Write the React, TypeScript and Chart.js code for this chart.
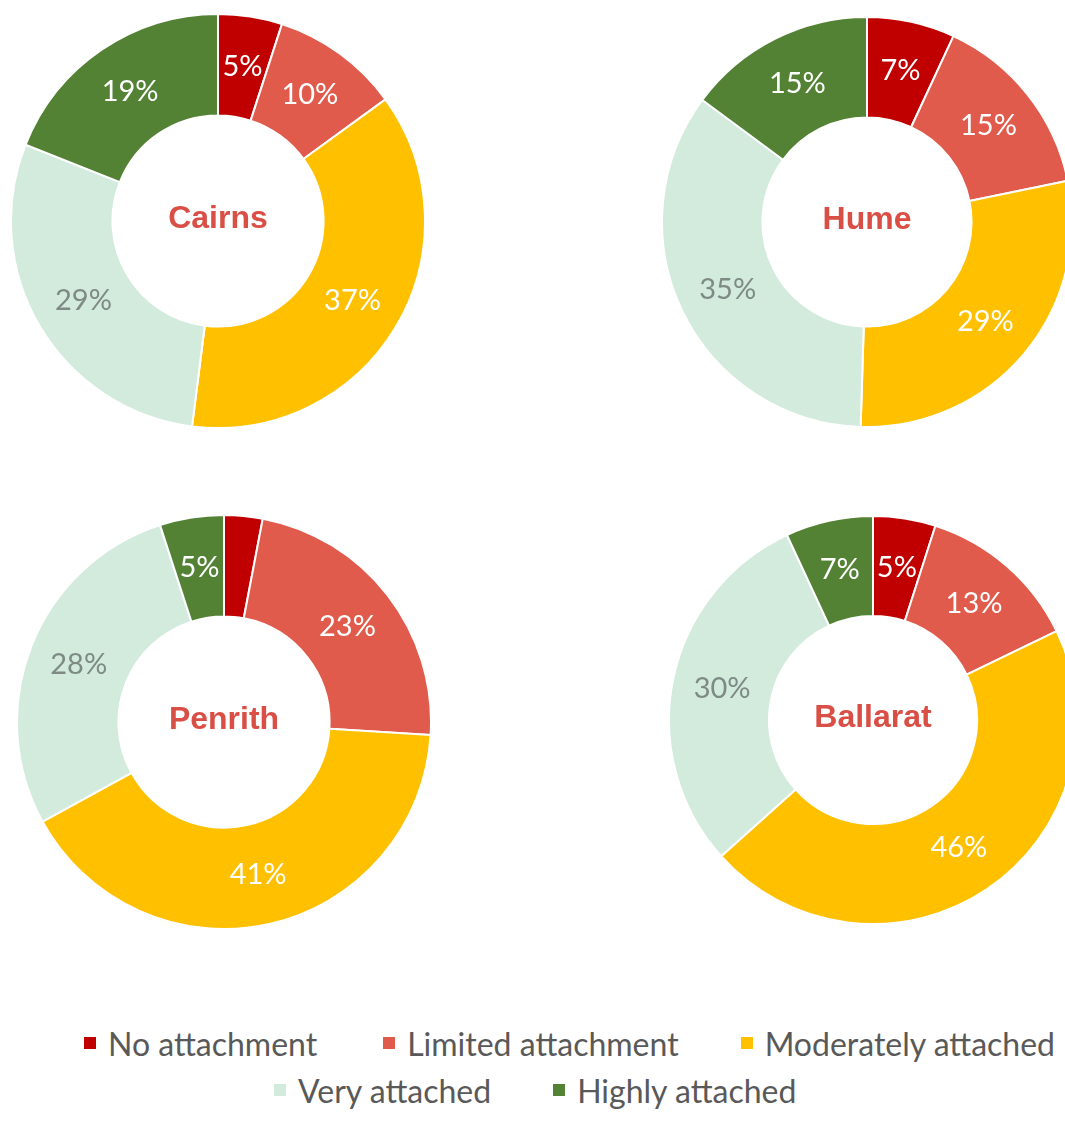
import React, { useEffect, useRef } from "react";
import { Chart, registerables } from "chart.js";

Chart.register(...registerables);

const categories = [
  "No attachment",
  "Limited attachment",
  "Moderately attached",
  "Very attached",
  "Highly attached",
];
const regionNames = ["Cairns", "Hume", "Penrith", "Ballarat"];
const cairnsValues = [5, 10, 37, 29, 19];
const humeValues = [7, 15, 29, 35, 15];
const penrithValues = [3, 23, 41, 28, 5];
const ballaratValues = [5, 13, 46, 30, 7];

const sliceColors = ["#C00000", "#E05B4B", "#FFC000", "#D3EBDD", "#548235"];
const labelColors = ["#FFFFFF", "#FFFFFF", "#FFFFFF", "#7E8A84", "#FFFFFF"];
const titleColor = "#D94F45";
const labelFont = "Lato, 'Open Sans', sans-serif";

type DonutProps = { title: string; values: number[]; cx: number; cy: number; r: number };

function Donut({ title, values, cx, cy, r }: DonutProps) {
  const ref = useRef<HTMLCanvasElement>(null);
  const size = 2 * r + 2;
  useEffect(() => {
    const labelPlugin = {
      id: "sliceLabels",
      afterDatasetsDraw(chart: any) {
        const ctx = chart.ctx;
        const meta = chart.getDatasetMeta(0);
        ctx.save();
        ctx.textAlign = "center";
        ctx.textBaseline = "middle";
        ctx.font = `29px ${labelFont}`;
        let cx0 = 0;
        let cy0 = 0;
        meta.data.forEach((arc: any, i: number) => {
          const p = arc.getProps(
            ["x", "y", "startAngle", "endAngle", "innerRadius", "outerRadius"],
            true
          );
          cx0 = p.x;
          cy0 = p.y;
          if (values[i] < 4) return;
          const mid = (p.startAngle + p.endAngle) / 2;
          const rr = (p.innerRadius + p.outerRadius) / 2;
          ctx.fillStyle = labelColors[i];
          ctx.fillText(values[i] + "%", p.x + Math.cos(mid) * rr, p.y + Math.sin(mid) * rr);
        });
        ctx.font = `bold 32px 'Liberation Sans', Arial, sans-serif`;
        ctx.fillStyle = titleColor;
        ctx.fillText(title, cx0, cy0 - 2);
        ctx.restore();
      },
    };
    const chart = new Chart(ref.current!, {
      type: "doughnut",
      data: {
        labels: categories,
        datasets: [
          {
            data: values,
            backgroundColor: sliceColors,
            borderColor: "#FFFFFF",
            borderWidth: 2,
          },
        ],
      },
      options: {
        responsive: false,
        animation: false,
        cutout: "51%",
        layout: { padding: 0 },
        plugins: { legend: { display: false }, tooltip: { enabled: false } },
      },
      plugins: [labelPlugin],
    } as any);
    return () => chart.destroy();
  }, []);
  return (
    <canvas
      ref={ref}
      width={size}
      height={size}
      style={{ position: "absolute", left: cx - size / 2, top: cy - size / 2, width: size, height: size }}
    />
  );
}

function LegendItem({ idx, gapAfter }: { idx: number; gapAfter: number }) {
  return (
    <div style={{ display: "flex", alignItems: "center", marginRight: gapAfter }}>
      <div style={{ width: 12, height: 12, background: sliceColors[idx], marginRight: 12 }} />
      <span style={{ fontFamily: labelFont, fontSize: 32, color: "#595959", whiteSpace: "nowrap" }}>
        {categories[idx]}
      </span>
    </div>
  );
}

export default function App() {
  return (
    <div
      style={{
        position: "absolute",
        left: 0,
        top: 0,
        width: 1065,
        height: 1133,
        overflow: "hidden",
        background: "#FFFFFF",
      }}
    >
      <Donut title={regionNames[0]} values={cairnsValues} cx={218} cy={221} r={207} />
      <Donut title={regionNames[1]} values={humeValues} cx={867} cy={222} r={205} />
      <Donut title={regionNames[2]} values={penrithValues} cx={224} cy={722} r={207} />
      <Donut title={regionNames[3]} values={ballaratValues} cx={873} cy={720} r={204} />
      <div style={{ position: "absolute", left: 84, top: 1021, height: 44, display: "flex", alignItems: "center" }}>
        <LegendItem idx={0} gapAfter={66} />
        <LegendItem idx={1} gapAfter={62} />
        <LegendItem idx={2} gapAfter={0} />
      </div>
      <div style={{ position: "absolute", left: 274, top: 1068, height: 44, display: "flex", alignItems: "center" }}>
        <LegendItem idx={3} gapAfter={62} />
        <LegendItem idx={4} gapAfter={0} />
      </div>
    </div>
  );
}
